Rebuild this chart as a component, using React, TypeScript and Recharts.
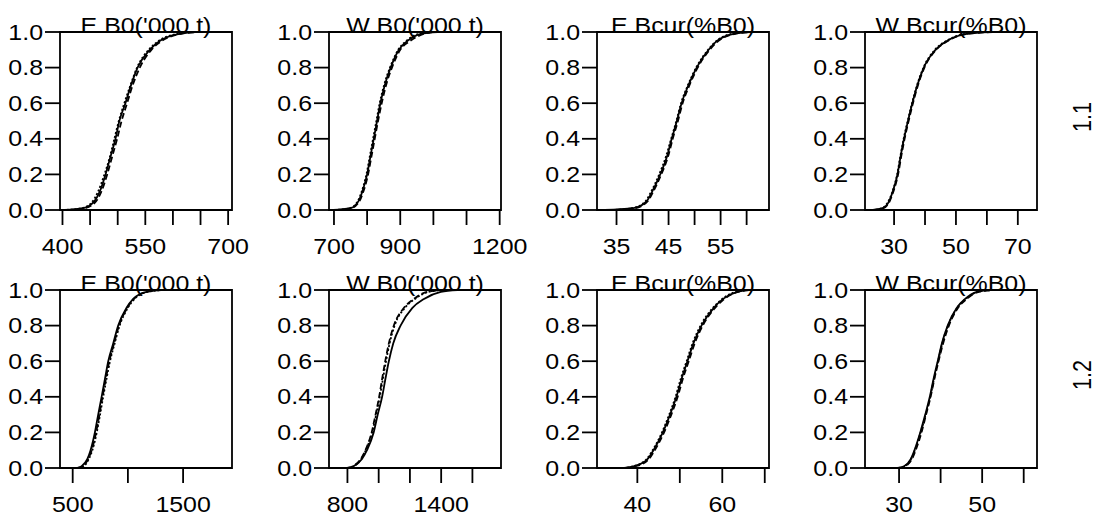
import { Line, LineChart, ReferenceArea, XAxis, YAxis } from "recharts"

// cumulative probability levels shared by every curve
const cumProb = [0, 0.01, 0.05, 0.1, 0.2, 0.3, 0.4, 0.5, 0.6, 0.7, 0.8, 0.9, 0.95, 0.99, 1]
const yTicks = [0, 0.2, 0.4, 0.6, 0.8, 1]

// run 1.1 quantiles (solid / dashed / dotted)
const eB0_11_a = [404, 437, 458, 467, 478, 487, 496, 503, 514, 524, 536, 558, 576, 612, 641]
const eB0_11_b = [410, 440, 461, 470, 481, 490, 499, 507, 517, 527, 540, 561, 580, 615, 650]
const eB0_11_c = [400, 435, 455, 464, 476, 486, 494, 502, 512, 523, 535, 556, 574, 608, 628]

const wB0_11_a = [698, 749, 774, 785, 800, 810, 820, 830, 840, 853, 871, 896, 922, 962, 1013]
const wB0_11_b = [705, 752, 777, 788, 803, 813, 823, 833, 844, 857, 875, 900, 930, 972, 1000]
const wB0_11_c = [700, 747, 772, 783, 798, 808, 818, 828, 838, 851, 869, 894, 918, 958, 1005]

const eBcur_11_a = [32.7, 38.2, 40.8, 41.8, 43.4, 44.7, 45.6, 46.6, 47.5, 48.8, 50.4, 52.7, 54.3, 57.5, 60.7]
const eBcur_11_b = [33.5, 38.5, 41.0, 42.0, 43.6, 44.9, 45.8, 46.8, 47.7, 49.0, 50.6, 52.9, 54.6, 57.8, 61.2]
const eBcur_11_c = [34.0, 38.0, 40.6, 41.6, 43.2, 44.5, 45.5, 46.5, 47.4, 48.7, 50.3, 52.6, 54.2, 57.2, 60.0]

const wBcur_11_a = [23.1, 26.3, 28.4, 29.5, 31.1, 32.1, 33.2, 34.5, 35.9, 37.5, 39.6, 43.4, 47.1, 53.5, 61.0]
const wBcur_11_b = [23.5, 26.5, 28.6, 29.7, 31.3, 32.3, 33.4, 34.7, 36.1, 37.7, 39.8, 43.6, 47.4, 54.0, 63.0]
const wBcur_11_c = [22.8, 26.0, 28.2, 29.4, 31.0, 32.0, 33.1, 34.4, 35.8, 37.4, 39.5, 43.2, 46.9, 53.0, 59.5]

// run 1.2 quantiles
const eB0_12_a = [541, 581, 632, 662, 701, 731, 762, 792, 822, 867, 912, 988, 1048, 1169, 1289]
const eB0_12_b = [545, 590, 640, 672, 712, 742, 770, 800, 832, 875, 920, 995, 1055, 1175, 1300]
const eB0_12_c = [550, 600, 645, 678, 718, 748, 776, 806, 838, 880, 925, 1000, 1060, 1180, 1320]

const wB0_12_a = [800, 839, 893, 925, 968, 994, 1022, 1043, 1065, 1093, 1140, 1216, 1290, 1398, 1505]
const wB0_12_b = [798, 835, 885, 915, 955, 980, 1003, 1022, 1042, 1065, 1097, 1162, 1226, 1312, 1441]
const wB0_12_c = [805, 840, 888, 918, 958, 984, 1007, 1027, 1047, 1070, 1102, 1168, 1232, 1320, 1420]

const eBcur_12_a = [36.9, 39.3, 42.4, 43.8, 46.0, 47.7, 49.2, 50.4, 51.8, 53.2, 55.1, 58.0, 60.2, 63.5, 66.4]
const eBcur_12_b = [37.2, 39.6, 42.7, 44.1, 46.3, 48.0, 49.5, 50.7, 52.1, 53.5, 55.4, 58.3, 60.5, 63.8, 67.0]
const eBcur_12_c = [36.6, 39.1, 42.2, 43.6, 45.8, 47.5, 49.0, 50.2, 51.6, 53.0, 54.9, 57.8, 60.0, 63.2, 65.8]

const wBcur_12_a = [29.6, 31.2, 32.8, 33.7, 35.1, 36.3, 37.4, 38.3, 39.3, 40.3, 41.7, 43.9, 45.9, 48.7, 51.8]
const wBcur_12_b = [30.0, 31.5, 33.1, 34.0, 35.4, 36.5, 37.6, 38.5, 39.5, 40.6, 42.0, 44.2, 46.3, 49.2, 53.0]
const wBcur_12_c = [29.8, 31.3, 32.9, 33.8, 35.2, 36.4, 37.5, 38.4, 39.4, 40.4, 41.8, 44.0, 46.1, 49.0, 52.5]

// x-axis ticks and the ones that carry a label
const eB0_11_ticks = [400, 450, 500, 550, 600, 650, 700]
const eB0_11_labels = [400, 550, 700]
const wB0_11_ticks = [700, 800, 900, 1000, 1100, 1200]
const wB0_11_labels = [700, 900, 1200]
const eBcur_11_ticks = [35, 40, 45, 50, 55, 60]
const eBcur_11_labels = [35, 45, 55]
const wBcur_11_ticks = [30, 40, 50, 60, 70]
const wBcur_11_labels = [30, 50, 70]
const eB0_12_ticks = [500, 1000, 1500]
const eB0_12_labels = [500, 1500]
const wB0_12_ticks = [800, 1000, 1200, 1400, 1600]
const wB0_12_labels = [800, 1400]
const eBcur_12_ticks = [40, 50, 60, 70]
const eBcur_12_labels = [40, 60]
const wBcur_12_ticks = [30, 40, 50, 60]
const wBcur_12_labels = [30, 50]

const FONT = '"Liberation Sans", Arial, Helvetica, sans-serif'
const FS = 21.5
const STRETCH = 1.16 // glyphs are drawn a little wider than tall
const BOX_W = 172
const BOX_H = 178
const PAD_L = 60
const PAD_T = 32
const PAD_B = 50
const LW = 1.8
const DASH = [undefined, "6 3", "2 2"]

const toPoints = (xs: number[]) => xs.map((x, i) => ({ x, p: cumProb[i] }))

function WideText({ x, y, anchor, dy, children }: any) {
  return (
    <text
      transform={`translate(${x} ${y}) scale(${STRETCH} 1)`}
      dy={dy}
      textAnchor={anchor}
      fontSize={FS}
      fontFamily={FONT}
      fill="#000"
    >
      {children}
    </text>
  )
}

function XTick(props: any) {
  const { x, y, payload, labels } = props
  if (!labels.includes(payload.value)) return null
  return (
    <WideText x={x} y={y} anchor="middle" dy="0.71em">
      {payload.value}
    </WideText>
  )
}

function YTick(props: any) {
  const { x, y, payload } = props
  return (
    <WideText x={x} y={y} anchor="end" dy="0.355em">
      {payload.value.toFixed(1)}
    </WideText>
  )
}

type PanelProps = {
  left: number
  top: number
  title: string
  domain: [number, number]
  ticks: number[]
  labels: number[]
  runs: number[][]
  rowLabel?: string
}

function Panel({ left, top, title, domain, ticks, labels, runs, rowLabel }: PanelProps) {
  const padR = rowLabel ? 66 : 30
  return (
    <div style={{ position: "absolute", left: left - PAD_L, top: top - PAD_T }}>
      <LineChart
        width={PAD_L + BOX_W + padR}
        height={PAD_T + BOX_H + PAD_B}
        margin={{ top: PAD_T, right: padR, bottom: 0, left: 0 }}
      >
        <XAxis
          dataKey="x"
          type="number"
          domain={domain}
          ticks={ticks}
          interval={0}
          allowDataOverflow
          height={PAD_B}
          axisLine={false}
          tickSize={15}
          tickMargin={14}
          tickLine={{ stroke: "#000", strokeWidth: LW }}
          tick={<XTick labels={labels} />}
        />
        <YAxis
          type="number"
          domain={[0, 1]}
          ticks={yTicks}
          interval={0}
          width={PAD_L}
          axisLine={false}
          tickSize={15}
          tickMargin={2}
          tickLine={{ stroke: "#000", strokeWidth: LW }}
          tick={<YTick />}
        />
        {runs.map((r, i) => (
          <Line
            key={i}
            data={toPoints(r)}
            dataKey="p"
            type="monotone"
            stroke="#000"
            strokeWidth={LW}
            strokeDasharray={DASH[i]}
            dot={false}
            activeDot={false}
            isAnimationActive={false}
          />
        ))}
        <ReferenceArea
          x1={domain[0]}
          x2={domain[1]}
          y1={0}
          y2={1}
          fill="none"
          stroke="#000"
          strokeWidth={LW}
          ifOverflow="visible"
          label={(p: any) => {
            const vb = p.viewBox
            return (
              <g>
                <WideText x={vb.x + vb.width / 2} y={vb.y + 1} anchor="middle">
                  {title}
                </WideText>
                {rowLabel && (
                  <text
                    transform={`translate(${vb.x + vb.width + 45} ${vb.y + vb.height / 2 - 4}) rotate(-90) scale(1 ${STRETCH})`}
                    textAnchor="middle"
                    dominantBaseline="central"
                    fontSize={FS}
                    fontFamily={FONT}
                    fill="#000"
                  >
                    {rowLabel}
                  </text>
                )}
              </g>
            )
          }}
        />
      </LineChart>
    </div>
  )
}

const COLS = [60, 329, 597, 865]
const ROWS = [32, 290]

export default function App() {
  return (
    <div style={{ position: "absolute", left: 0, top: 0, width: 1103, height: 519, background: "#fff" }}>
      <Panel left={COLS[0]} top={ROWS[0]} title="E B0('000 t)" domain={[395.5, 707]} ticks={eB0_11_ticks} labels={eB0_11_labels} runs={[eB0_11_a, eB0_11_b, eB0_11_c]} />
      <Panel left={COLS[1]} top={ROWS[0]} title="W B0('000 t)" domain={[685, 1204]} ticks={wB0_11_ticks} labels={wB0_11_labels} runs={[wB0_11_a, wB0_11_b, wB0_11_c]} />
      <Panel left={COLS[2]} top={ROWS[0]} title="E Bcur(%B0)" domain={[31.25, 64.3]} ticks={eBcur_11_ticks} labels={eBcur_11_labels} runs={[eBcur_11_a, eBcur_11_b, eBcur_11_c]} />
      <Panel left={COLS[3]} top={ROWS[0]} title="W Bcur(%B0)" domain={[20.6, 76.2]} ticks={wBcur_11_ticks} labels={wBcur_11_labels} runs={[wBcur_11_a, wBcur_11_b, wBcur_11_c]} rowLabel="1.1" />
      <Panel left={COLS[0]} top={ROWS[1]} title="E B0('000 t)" domain={[385, 1943]} ticks={eB0_12_ticks} labels={eB0_12_labels} runs={[eB0_12_a, eB0_12_b, eB0_12_c]} />
      <Panel left={COLS[1]} top={ROWS[1]} title="W B0('000 t)" domain={[682, 1783]} ticks={wB0_12_ticks} labels={wB0_12_labels} runs={[wB0_12_a, wB0_12_b, wB0_12_c]} />
      <Panel left={COLS[2]} top={ROWS[1]} title="E Bcur(%B0)" domain={[30.5, 71]} ticks={eBcur_12_ticks} labels={eBcur_12_labels} runs={[eBcur_12_a, eBcur_12_b, eBcur_12_c]} />
      <Panel left={COLS[3]} top={ROWS[1]} title="W Bcur(%B0)" domain={[21.8, 63.2]} ticks={wBcur_12_ticks} labels={wBcur_12_labels} runs={[wBcur_12_a, wBcur_12_b, wBcur_12_c]} rowLabel="1.2" />
    </div>
  )
}
